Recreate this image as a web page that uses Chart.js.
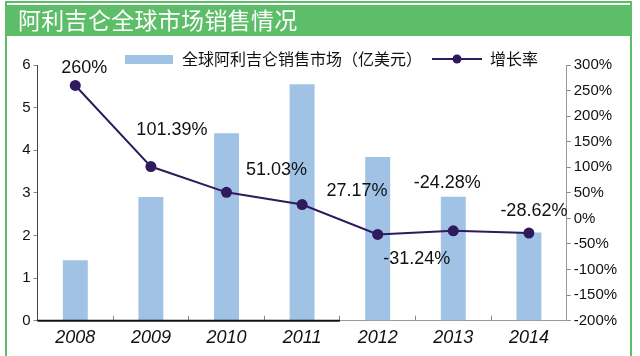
<!DOCTYPE html>
<html><head><meta charset="utf-8">
<script src="https://cdn.jsdelivr.net/npm/chart.js@4.4.1/dist/chart.umd.min.js"></script>
<style>
html,body{margin:0;padding:0;background:#fff;}
#wrap{position:relative;width:640px;height:356px;overflow:hidden;}
#c{position:absolute;left:0;top:0;}
#frame{position:absolute;left:5px;top:1px;width:623px;height:400px;border:2px solid #5dbd68;pointer-events:none;}
#title{position:absolute;left:7px;top:5px;width:623px;height:31px;background:#5dbd68;color:#fff;font-family:"Noto Sans CJK SC";font-size:23px;line-height:29px;padding-left:11px;box-sizing:border-box;white-space:nowrap;letter-spacing:0.3px;}
</style>
</head><body>
<div id="wrap">
<canvas id="c" width="640" height="356"></canvas>
<div id="frame"></div>
<div id="title">阿利吉仑全球市场销售情况</div>
</div>
<script>
const years = ['2008','2009','2010','2011','2012','2013','2014'];
const sales = [1.42, 2.90, 4.40, 5.55, 3.84, 2.91, 2.07];
const growth = [260, 101.39, 51.03, 27.17, -31.24, -24.28, -28.62];
const leftTicks = [0, 1, 2, 3, 4, 5, 6];
const rightTicks = [-200, -150, -100, -50, 0, 50, 100, 150, 200, 250, 300];
const barLabel = '全球阿利吉仑销售市场（亿美元）';
const lineLabel = '增长率';

// label placement offsets (style only)
const labelOffsets = [[9,-17],[21,-37],[50,-22],[55,-13],[39,25],[-6,-48],[5,-22]];

const BAR_COLOR = '#a0c2e5';
const LINE_COLOR = '#2e1a5c';

function makeBarIcon(){
  const c = document.createElement('canvas'); c.width = 48; c.height = 9;
  const g = c.getContext('2d'); g.fillStyle = BAR_COLOR; g.fillRect(0,0,48,9); return c;
}
function makeLineIcon(){
  const c = document.createElement('canvas'); c.width = 50; c.height = 12;
  const g = c.getContext('2d'); g.strokeStyle = LINE_COLOR; g.lineWidth = 2;
  g.beginPath(); g.moveTo(0,6); g.lineTo(50,6); g.stroke();
  g.fillStyle = LINE_COLOR; g.beginPath(); g.arc(25,6,4.5,0,Math.PI*2); g.fill(); return c;
}
const barIcon = makeBarIcon();
const lineIcon = makeLineIcon();

const legendShift = {
  id: 'legendShift',
  afterLayout(chart){
    const l = chart.legend; if (!l) return;
    l.top += 12; l.bottom += 12; l.left += 11; l.right += 11;
  }
};

const axisAccent = {
  id: 'axisAccent',
  afterDraw(chart){
    const x = chart.scales.x, a = chart.chartArea, ctx = chart.ctx;
    const end = (x.getPixelForValue(3) + x.getPixelForValue(4)) / 2;
    ctx.save(); ctx.strokeStyle = '#111'; ctx.lineWidth = 2;
    ctx.beginPath(); ctx.moveTo(a.left, a.bottom); ctx.lineTo(end, a.bottom); ctx.stroke();
    ctx.restore();
  }
};

const valueLabels = {
  id: 'valueLabels',
  afterDatasetsDraw(chart){
    const meta = chart.getDatasetMeta(1), ctx = chart.ctx;
    ctx.save();
    ctx.font = '18px "Liberation Sans"'; ctx.fillStyle = '#111';
    ctx.textAlign = 'center'; ctx.textBaseline = 'middle';
    meta.data.forEach((pt, i) => {
      const [dx, dy] = labelOffsets[i];
      ctx.fillText(growth[i] + '%', pt.x + dx, pt.y + dy);
    });
    ctx.restore();
  }
};

new Chart(document.getElementById('c'), {
  data: {
    labels: years,
    datasets: [
      { type: 'bar', label: barLabel, data: sales, yAxisID: 'y', backgroundColor: BAR_COLOR,
        barPercentage: 0.33, categoryPercentage: 1, order: 2 },
      { type: 'line', label: lineLabel, data: growth, yAxisID: 'y1', borderColor: LINE_COLOR,
        backgroundColor: LINE_COLOR, borderWidth: 2, pointRadius: 5.5, pointHoverRadius: 5.5,
        pointBackgroundColor: LINE_COLOR, pointBorderWidth: 0, tension: 0, order: 1 }
    ]
  },
  options: {
    responsive: false, animation: false, devicePixelRatio: 1,
    layout: { padding: { top: 29, left: 0, right: 0, bottom: 0 } },
    plugins: {
      tooltip: { enabled: false },
      legend: {
        position: 'top',
        labels: {
          usePointStyle: true, pointStyleWidth: 50, padding: 10, color: '#111',
          font: { family: '"Noto Sans CJK SC"', size: 16 },
          sort: (a, b) => a.datasetIndex - b.datasetIndex,
          generateLabels(chart){
            const items = Chart.defaults.plugins.legend.labels.generateLabels(chart);
            items.forEach(it => { it.pointStyle = it.datasetIndex === 0 ? barIcon : lineIcon; });
            return items;
          }
        }
      }
    },
    scales: {
      x: {
        offset: true,
        grid: { offset: true, drawOnChartArea: false, tickLength: -5, color: '#888' },
        border: { color: '#999', width: 1 },
        ticks: { padding: 11, color: '#111', font: { family: '"Liberation Sans"', size: 18, style: 'italic' } },
        afterFit(s){ s.height = 35.3; }
      },
      y: {
        position: 'left', min: 0, max: 6,
        afterBuildTicks(s){ s.ticks = leftTicks.map(v => ({ value: v })); },
        grid: { drawOnChartArea: false, tickLength: 4, color: '#888' },
        border: { color: '#444' },
        ticks: { padding: 3, color: '#111', font: { family: '"Liberation Sans"', size: 15 } },
        afterFit(s){ s.width = 37.5; }
      },
      y1: {
        position: 'right', min: -200, max: 300,
        afterBuildTicks(s){ s.ticks = rightTicks.map(v => ({ value: v })); },
        grid: { drawOnChartArea: false, tickLength: 4, color: '#888' },
        border: { color: '#999' },
        ticks: { padding: 3, color: '#111', font: { family: '"Liberation Sans"', size: 15 }, callback: v => v + '%' },
        afterFit(s){ s.width = 73.3; }
      }
    }
  },
  plugins: [legendShift, axisAccent, valueLabels]
});
</script>
</body></html>
